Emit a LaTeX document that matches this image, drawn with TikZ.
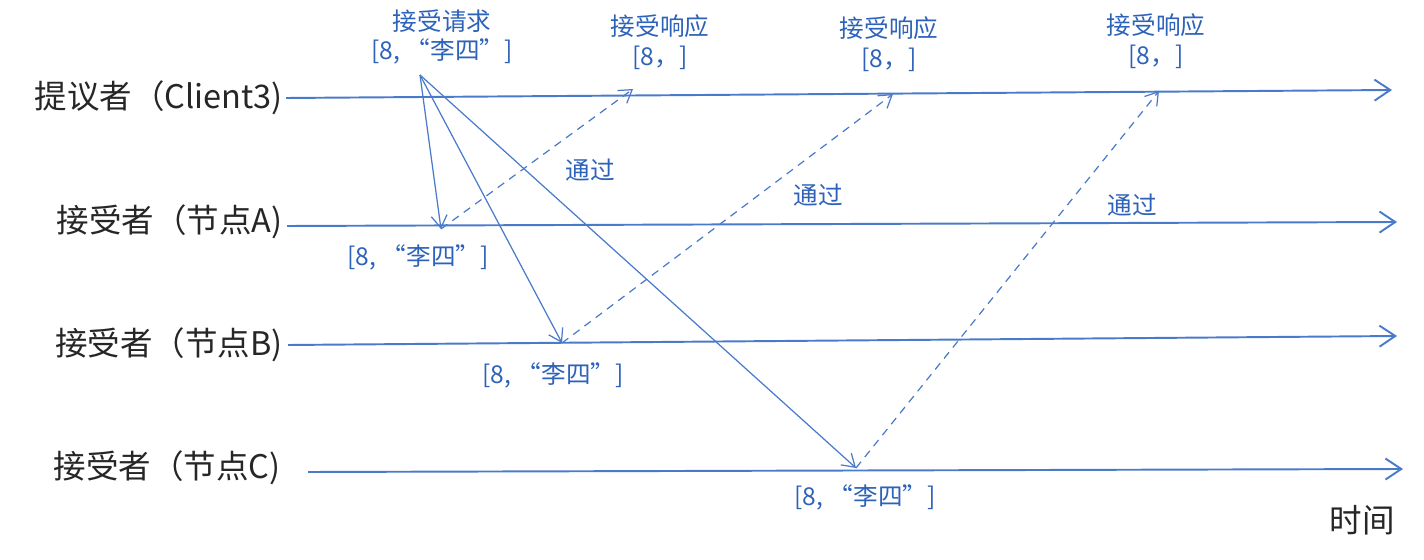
\documentclass[tikz,border=0pt]{standalone}
\usepackage{fontspec}
\newfontfamily\cjk{Noto Sans CJK SC}
\usetikzlibrary{arrows.meta}
\definecolor{lineblue}{HTML}{4A7BCB}
\definecolor{textblue}{HTML}{2D62BA}

\begin{document}
\begin{tikzpicture}[
  x=0.02cm, y=-0.02cm,
  role/.style={font=\cjk\fontsize{18.5}{22}\selectfont, text=black!85, inner sep=0pt},
  msg/.style={font=\cjk\fontsize{14}{17}\selectfont, text=textblue, align=center, inner sep=0pt},
  timeline/.style={-{Straight Barb[length=9pt,width=12pt]}, line width=1.1pt, color=lineblue},
  req_arr/.style={-{Straight Barb[length=7pt,width=9pt]}, line width=0.7pt, color=lineblue},
  ack_arr/.style={-{Straight Barb[length=7pt,width=9pt]}, line width=0.7pt, color=lineblue, dash pattern=on 4.5pt off 3.5pt}
]
  \useasboundingbox (0,0) rectangle (1424,560);

  % Roles (left column)
  \node[role, anchor=east] (prop) at (283,98) {提议者（Client3)};
  \node[role, anchor=east] (accA) at (283,222) {接受者（节点A)};
  \node[role, anchor=east] (accB) at (283,345) {接受者（节点B)};
  \node[role, anchor=east] (accC) at (281,468) {接受者（节点C)};
  \node[role] (time) at (1362,520) {时间};

  % Timeline ends
  \coordinate (propS) at (286,98);  \coordinate (propE) at (1392,90);
  \coordinate (accAS) at (287,226); \coordinate (accAE) at (1397,222);
  \coordinate (accBS) at (288,345); \coordinate (accBE) at (1397,336);
  \coordinate (accCS) at (308,472); \coordinate (accCE) at (1403,469);

  % Message points
  \coordinate (req) at (420,75);
  \coordinate (gotA) at (441,229);
  \coordinate (gotB) at (562,343);
  \coordinate (gotC) at (856,468);
  \coordinate (ack1) at (633,89);
  \coordinate (ack2) at (893,94);
  \coordinate (ack3) at (1159,91);

  % Timelines
  \draw[timeline] (propS) -- (propE);
  \draw[timeline] (accAS) -- (accAE);
  \draw[timeline] (accBS) -- (accBE);
  \draw[timeline] (accCS) -- (accCE);

  % Prepare / accept requests
  \draw[req_arr] (req) -- (gotA);
  \draw[req_arr] (req) -- (gotB);
  \draw[req_arr] (req) -- (gotC);

  % Responses (dashed)
  \draw[ack_arr] (gotA) -- (ack1);
  \draw[ack_arr] (gotB) -- (ack2);
  \draw[ack_arr] (gotC) -- (ack3);

  % Labels on the proposer side
  \node[msg] (reqlbl) at (442,37) {接受请求\\{}[8, “李四”]};
  \node[msg] (resp1) at (660,42) {接受响应\\{}[8，]};
  \node[msg] (resp2) at (889,44) {接受响应\\{}[8，]};
  \node[msg] (resp3) at (1156,41) {接受响应\\{}[8，]};

  % Values stored by acceptors
  \node[msg] (valA) at (418,257) {[8, “李四”]};
  \node[msg] (valB) at (553,375) {[8, “李四”]};
  \node[msg] (valC) at (865,497) {[8, “李四”]};

  % Pass marks
  \node[msg] (pass1) at (590,170) {通过};
  \node[msg] (pass2) at (818,195) {通过};
  \node[msg] (pass3) at (1132,205) {通过};
\end{tikzpicture}
\end{document}
